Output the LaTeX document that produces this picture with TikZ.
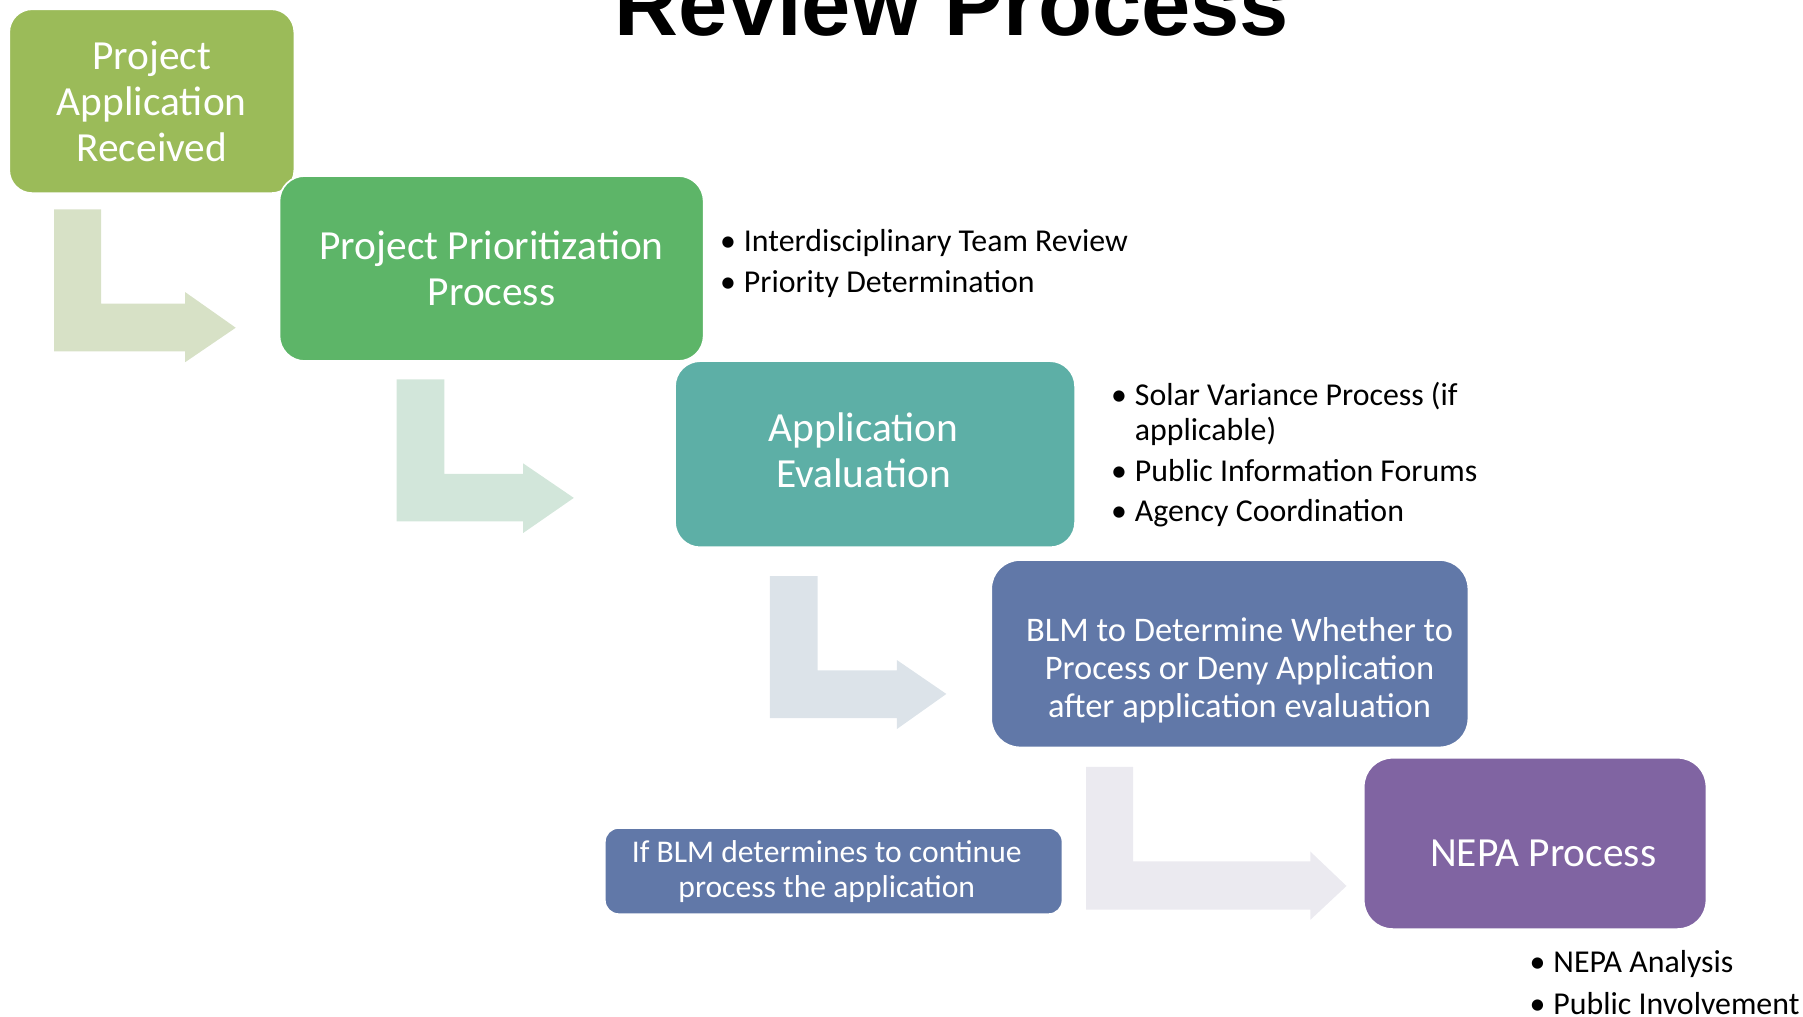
\documentclass[tikz,border=0pt]{standalone}
\usepackage{fontspec}
\setmainfont{Carlito}
\newfontfamily\headfont{Liberation Sans}
\usetikzlibrary{positioning}

\definecolor{recvgreen}{HTML}{9BBB59}
\definecolor{priogreen}{HTML}{5DB568}
\definecolor{evalteal}{HTML}{5DAFA6}
\definecolor{blmblue}{HTML}{6178A8}
\definecolor{nepapurple}{HTML}{8064A2}
\definecolor{arrowA}{HTML}{D7E1C6}
\definecolor{arrowB}{HTML}{D2E6DA}
\definecolor{arrowC}{HTML}{DCE3E9}
\definecolor{arrowD}{HTML}{EBEAF0}

\begin{document}
\begin{tikzpicture}[x=1pt,y=-1pt,
    stage/.style={rectangle, rounded corners=22pt, draw=white, line width=1.5pt,
        text=white, align=center, inner sep=0pt},
    stagetext/.style={text=white, align=center, inner sep=0pt},
    notes/.style={anchor=north west, align=left, inner sep=0pt,
        font=\fontsize{27.7}{31}\selectfont}]
\useasboundingbox (0,0) rectangle (1568,884);

% title, cut by the top edge
\node[anchor=base, font=\headfont\bfseries\fontsize{77}{80}\selectfont] (title) at (828,31) {Review Process};

% bent arrows
\fill[arrowA] (47,182) -- (88,182) -- (88,264) -- (161,264) -- (161,254) -- (205,285)
    -- (161,315) -- (161,305.5) -- (47,305.5) -- cycle;
\fill[arrowB] (345,330) -- (386.5,330) -- (386.5,412) -- (455,412) -- (455,403) -- (499,433)
    -- (455,463.5) -- (455,453.5) -- (345,453.5) -- cycle;
\fill[arrowC] (669.5,501) -- (711,501) -- (711,583) -- (780,583) -- (780,574) -- (823,603.5)
    -- (780,634) -- (780,624.5) -- (669.5,624.5) -- cycle;
\fill[arrowD] (944.5,667) -- (985.5,667) -- (985.5,749) -- (1139.5,749) -- (1139.5,740.5) -- (1171,770.5)
    -- (1139.5,800) -- (1139.5,791) -- (944.5,791) -- cycle;

% stages
\node[stage, fill=recvgreen, rounded corners=20pt, minimum width=248pt, minimum height=160pt,
    font=\fontsize{36}{40}\selectfont] (recv) at (132,88) {Project\\Application\\Received};
\node[stage, fill=priogreen, minimum width=369pt, minimum height=161pt,
    font=\fontsize{36}{40}\selectfont] (prio) at (427.5,233.5) {Project Prioritization\\Process};
\node[stage, fill=evalteal, minimum width=348pt, minimum height=162pt] (eval) at (761,395) {};
\node[stagetext, font=\fontsize{36}{40}\selectfont] (evaltext) at (751,392) {Application\\Evaluation};
\node[stage, fill=blmblue, rounded corners=25pt, minimum width=415pt, minimum height=163pt] (blm) at (1069.5,568.5) {};
\node[stagetext, font=\fontsize{30}{33}\selectfont] (blmtext)
    at (1078,583) {BLM to Determine Whether to\\Process or Deny Application\\after application evaluation};
\node[stage, fill=nepapurple, rounded corners=25pt, minimum width=298pt, minimum height=149pt] (nepa) at (1335,733.5) {};
\node[stagetext, font=\fontsize{36}{40}\selectfont] (nepatext) at (1342,742) {NEPA Process};
\node[stage, fill=blmblue, rounded corners=12pt, minimum width=398pt, minimum height=75pt] (cont) at (725,757.5) {};
\node[stagetext, font=\fontsize{27.5}{30}\selectfont] (conttext) at (719,758) {If BLM determines to continue\\process the application};

% notes beside the stages
\node[notes] (prionotes) at (626,199) {\textbullet\hspace{7pt}Interdisciplinary Team Review\\[5pt]
    \textbullet\hspace{7pt}Priority Determination};
\node[notes] (evalnotes) at (966,332) {\textbullet\hspace{7pt}Solar Variance Process (if\\
    \hphantom{\textbullet\hspace{7pt}}applicable)\\[4pt]
    \textbullet\hspace{7pt}Public Information Forums\\[4pt]
    \textbullet\hspace{7pt}Agency Coordination};
\node[notes] (nepanotes) at (1330,826.5) {\textbullet\hspace{7pt}NEPA Analysis\\[5pt]
    \textbullet\hspace{7pt}Public Involvement};

\end{tikzpicture}
\end{document}
